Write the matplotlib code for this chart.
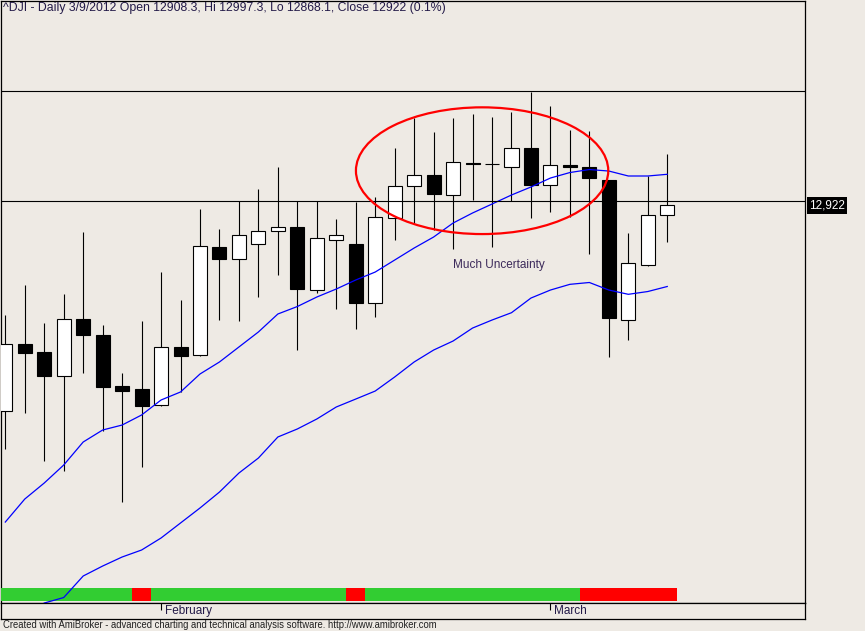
import numpy as np
import matplotlib
matplotlib.use('Agg')
import matplotlib.pyplot as plt
from matplotlib.patches import Ellipse, Rectangle

# daily DJI bars, 20 Jan 2012 .. 9 Mar 2012
dates = ['1/20', '1/23', '1/24', '1/25', '1/26', '1/27', '1/30', '1/31',
         '2/1', '2/2', '2/3', '2/6', '2/7', '2/8', '2/9', '2/10', '2/13', '2/14',
         '2/15', '2/16', '2/17', '2/21', '2/22', '2/23', '2/24', '2/27', '2/28', '2/29',
         '3/1', '3/2', '3/5', '3/6', '3/7', '3/8', '3/9']
opens = [12618.5, 12717.2, 12705.9, 12670.1, 12754.5, 12730.9, 12655.8, 12651.4,
         12627.4, 12713.3, 12701.0, 12860.1, 12842.4, 12864.6, 12883.7, 12889.6, 12796.8, 12870.4,
         12865.0, 12777.6, 12902.9, 12950.0, 12966.2, 12936.7, 12984.3, 12983.5, 12978.0, 13006.0,
         12952.4, 12980.9, 12978.0, 12958.8, 12752.6, 12833.6, 12908.3]
highs = [12760.4, 12804.6, 12748.6, 12791.3, 12882.7, 12745.7, 12675.0, 12751.6,
         12823.7, 12782.9, 12916.1, 12887.1, 12928.8, 12945.6, 12978.4, 12928.8, 12928.8, 12901.4,
         12926.4, 12934.7, 13006.0, 13050.2, 13029.6, 13050.2, 13056.1, 13051.6, 13059.5, 13089.4,
         13068.3, 13032.9, 13031.0, 12958.8, 12881.2, 12964.7, 12997.3]
lows = [12563.4, 12616.5, 12545.8, 12531.0, 12675.4, 12589.1, 12485.4, 12536.9,
        12626.0, 12647.0, 12700.5, 12753.5, 12752.0, 12787.4, 12819.8, 12708.8, 12793.2, 12769.7,
        12739.3, 12757.9, 12871.3, 12895.5, 12885.6, 12857.2, 12929.8, 12860.1, 12927.9, 12903.7,
        12912.6, 12905.2, 12850.7, 12699.0, 12723.6, 12833.0, 12868.1]
closes = [12717.2, 12704.9, 12671.0, 12754.5, 12731.4, 12654.8, 12648.9, 12626.8,
          12713.3, 12700.4, 12861.6, 12843.3, 12877.8, 12883.7, 12889.6, 12799.1, 12873.4, 12877.8,
          12778.5, 12904.8, 12950.0, 12966.2, 12938.2, 12985.4, 12982.9, 12982.9, 13006.0, 12952.4,
          12980.9, 12978.0, 12962.7, 12756.4, 12836.6, 12907.3, 12922.0]

ma_fast = [12455.4, 12489.3, 12512.9, 12539.4, 12573.3, 12591.0, 12598.3, 12613.1,
           12635.2, 12647.0, 12673.5, 12691.2, 12713.3, 12735.4, 12761.9, 12772.9, 12786.9, 12798.7,
           12812.0, 12823.7, 12841.4, 12859.1, 12875.3, 12895.9, 12910.7, 12923.9, 12937.2, 12949.0,
           12962.2, 12970.3, 12974.7, 12972.5, 12965.2, 12965.2, 12967.7]
ma_slow = [np.nan, np.nan, 12336.1, 12344.2, 12375.9, 12390.6, 12403.9, 12414.2,
           12431.9, 12454.0, 12476.1, 12499.6, 12527.6, 12549.7, 12580.7, 12592.5, 12607.2, 12624.9,
           12636.6, 12648.4, 12669.1, 12691.2, 12708.8, 12722.1, 12741.2, 12753.0, 12763.8, 12785.4,
           12797.2, 12805.6, 12808.3, 12797.2, 12790.9, 12795.0, 12802.4]

# ribbon: 1 = green, 0 = red
trend = [1, 1, 1, 1, 1, 1, 1, 0,
         1, 1, 1, 1, 1, 1, 1, 1, 1, 1,
         0, 1, 1, 1, 1, 1, 1, 1, 1, 1,
         1, 1, 0, 0, 0, 0, 0]

study_lines = [13089.9, 12928.8]
month_labels = {8: 'February', 28: 'March'}

bg = '#EEEAE4'
txt = '#231a48'

fig = plt.figure(figsize=(8.65, 6.31), dpi=100, facecolor=bg)
ax = fig.add_axes([1 / 865, 27.7 / 631, 803.5 / 865, 602.3 / 631], facecolor=bg)
ax2 = fig.add_axes([1 / 865, 12 / 631, 803.5 / 865, 15.7 / 631], facecolor=bg, sharex=ax)

x = np.arange(len(dates))
o = np.array(opens)
c = np.array(closes)
up = c > o

ax.vlines(x, lows, highs, color='black', lw=0.8, zorder=2)
ax.bar(x, np.abs(c - o), bottom=np.minimum(o, c), width=0.72,
       color=np.where(up, 'white', 'black'), edgecolor='black', linewidth=0.8, zorder=3)

ax.plot(x, ma_fast, color='#0000FF', lw=0.9, zorder=4)
ax.plot(x, ma_slow, color='#0000FF', lw=0.9, zorder=4)

for lvl in study_lines:
    ax.axhline(lvl, color='black', lw=0.8, zorder=4)

for i, t in enumerate(trend):
    ax.add_patch(Rectangle((i - 0.5, 0.0043), 1, 0.0211, transform=ax.get_xaxis_transform(),
                           color='#32CD32' if t else '#FF0000', lw=0, zorder=3))

ax.add_patch(Ellipse((24.49, 12973.0), 12.96, 186.7, fill=False, edgecolor='#FF0000', lw=1.6, zorder=5))
ax.text(23.0, 12834.0, 'Much Uncertainty', fontsize=8.5, family='Liberation Sans',
        color='#3C2A5A', ha='left', va='center', zorder=5)

ax.annotate('12,922', xy=(1.0, closes[-1]), xycoords=ax.get_yaxis_transform(),
            xytext=(3.4, 0), textcoords='offset points', ha='left', va='center',
            fontsize=8.5, family='Liberation Sans', color='white', annotation_clip=False,
            bbox=dict(boxstyle='square,pad=0.2', fc='black', ec='none'))

ax.set_xlim(-0.221, 41.05)
ax.set_ylim(12335.7, 13223.0)
ax.set_xticks([])
ax.set_yticks([])
for sp in ax.spines.values():
    sp.set_linewidth(0.9)

ax2.set_yticks([])
ax2.tick_params(axis='x', length=0, labelbottom=False)
for sp in ax2.spines.values():
    sp.set_linewidth(0.9)
ax2.set_ylim(0, 1)
for i, lab in month_labels.items():
    ax2.vlines(i, 0.55, 1, color='black', lw=0.8)
    ax2.annotate(lab, xy=(i, 0.5), xycoords=ax2.get_xaxis_transform(), xytext=(2.6, 0),
                 textcoords='offset points', ha='left', va='center', fontsize=8.5,
                 family='Liberation Sans', color=txt)

fig.text(3 / 865, 1 - 2 / 631,
         '^DJI - Daily 3/9/2012 Open 12908.3, Hi 12997.3, Lo 12868.1, Close 12922 (0.1%)',
         fontsize=8.8, family='Liberation Sans', color=txt, ha='left', va='top')
fig.text(3 / 865, 1 - 625 / 631,
         'Created with AmiBroker - advanced charting and technical analysis software. http://www.amibroker.com',
         fontsize=6.85, family='Liberation Sans', color='#202020', ha='left', va='center')

fig.savefig('out.png', dpi=100, facecolor=bg)
